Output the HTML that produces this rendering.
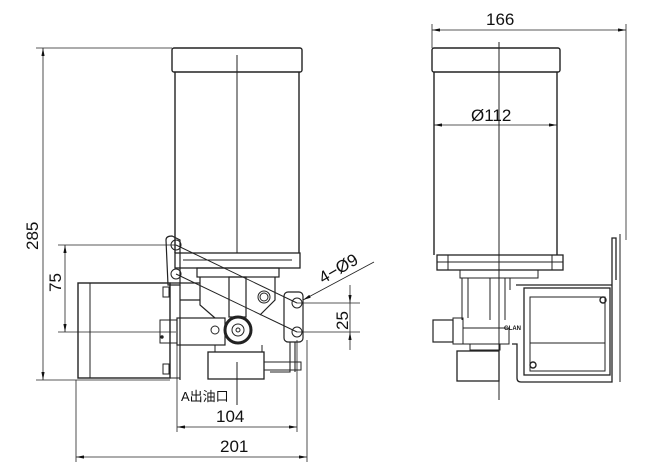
<!DOCTYPE html>
<html><head><meta charset="utf-8"><style>
html,body{margin:0;padding:0;background:#fff;width:645px;height:475px;overflow:hidden}
svg text{font-family:"Liberation Sans","Noto Sans CJK SC",sans-serif;fill:#111}
</style></head><body>
<svg width="645" height="475" viewBox="0 0 645 475" xmlns="http://www.w3.org/2000/svg" fill="none" stroke="#222" stroke-width="1">
<defs>
<marker id="a" viewBox="0 0 10 4" refX="10" refY="2" markerWidth="10" markerHeight="4" orient="auto-start-reverse"><path d="M0,0L10,2L0,4z" fill="#111" stroke="none"/></marker>
</defs>
<!-- LEFT VIEW -->
<rect x="172" y="48" width="130" height="24" rx="2" stroke-width="1.4"/>
<line x1="175" y1="72" x2="175" y2="253" stroke-width="1.4"/>
<line x1="299" y1="72" x2="299" y2="253" stroke-width="1.4"/>
<line x1="237" y1="55" x2="237" y2="253"/>
<rect x="175" y="253" width="125" height="15" stroke-width="1.3"/>
<line x1="183" y1="260" x2="292" y2="260"/>
<rect x="197" y="268" width="82" height="9" stroke-width="1.2"/>
<path d="M200 277 V305 L215 318 M275 277 V300 L260 315" stroke-width="1.2"/>
<rect x="229" y="277" width="17" height="40" stroke-width="1.2"/>
<circle cx="264" cy="297" r="6"/><circle cx="264" cy="297" r="4"/>
<path d="M166 240 Q166 236 172 236 L180 240 V285 L168 285 Z" stroke-width="1.2"/>
<path d="M180 285 V380 M180 300 H200 M170 283 H200" stroke-width="1.2"/>
<rect x="284" y="292" width="19" height="50" rx="4" stroke-width="1.2"/>
<path d="M290 342 V372 H270 M295 342 V372" stroke-width="1.1"/>
<!-- motor -->
<rect x="78" y="283" width="92" height="95" stroke-width="1.4"/>
<line x1="90" y1="283" x2="90" y2="378"/>
<rect x="163" y="287" width="6" height="10"/><rect x="163" y="364" width="6" height="10"/>
<rect x="170" y="283" width="10" height="95"/>
<!-- cylinder -->
<rect x="160" y="320" width="17" height="23"/>
<rect x="177" y="318" width="48" height="27" stroke-width="1.2"/>
<circle cx="162" cy="337" r="1.2" fill="#222"/>
<circle cx="215" cy="330" r="4"/>
<circle cx="238" cy="330" r="13" stroke-width="3"/>
<circle cx="238" cy="330" r="6"/><circle cx="238" cy="330" r="2"/>
<path d="M215 345 V352 M262 345 V352" />
<rect x="208" y="352" width="56" height="27" stroke-width="1.3"/>
<line x1="237" y1="362" x2="237" y2="405"/>
<rect x="264" y="362" width="37" height="8"/>
<!-- holes -->
<circle cx="176" cy="245" r="5"/><circle cx="176" cy="274" r="5"/>
<circle cx="297" cy="303" r="5"/><circle cx="297" cy="332" r="5"/>
<line x1="176" y1="245" x2="297" y2="303"/>
<line x1="176" y1="274" x2="297" y2="332"/>
<!-- dims left -->
<line x1="36" y1="48" x2="172" y2="48" stroke-width=".8"/>
<line x1="36" y1="380" x2="170" y2="380" stroke-width=".8"/>
<line x1="43" y1="48" x2="43" y2="380" stroke-width=".8" marker-start="url(#a)" marker-end="url(#a)"/>
<text x="0" y="0" font-size="17" transform="translate(38,250) rotate(-90)" stroke="none">285</text>
<line x1="58" y1="245" x2="176" y2="245" stroke-width=".8"/>
<line x1="58" y1="332" x2="176" y2="332" stroke-width=".8"/>
<line x1="65" y1="245" x2="65" y2="332" stroke-width=".8" marker-start="url(#a)" marker-end="url(#a)"/>
<text font-size="17" transform="translate(61,292) rotate(-90)" stroke="none">75</text>
<line x1="297" y1="303" x2="360" y2="303" stroke-width=".8"/>
<line x1="297" y1="332" x2="360" y2="332" stroke-width=".8"/>
<line x1="350" y1="285" x2="350" y2="303" stroke-width=".8" marker-end="url(#a)"/>
<line x1="350" y1="350" x2="350" y2="332" stroke-width=".8" marker-end="url(#a)"/>
<line x1="350" y1="303" x2="350" y2="332" stroke-width=".8"/>
<text font-size="17" transform="translate(348,330) rotate(-90)" stroke="none">25</text>
<line x1="374" y1="262" x2="303" y2="300" stroke-width=".8" marker-end="url(#a)"/>
<text font-size="17" transform="translate(323,284) rotate(-30)" stroke="none">4−Ø9</text>
<line x1="177" y1="340" x2="177" y2="432" stroke-width=".8"/>
<line x1="297" y1="340" x2="297" y2="432" stroke-width=".8"/>
<line x1="307" y1="340" x2="307" y2="462" stroke-width=".8"/>
<line x1="76" y1="380" x2="76" y2="462" stroke-width=".8"/>
<line x1="177" y1="427" x2="297" y2="427" stroke-width=".8" marker-start="url(#a)" marker-end="url(#a)"/>
<line x1="76" y1="457" x2="307" y2="457" stroke-width=".8" marker-start="url(#a)" marker-end="url(#a)"/>
<text x="181" y="401" font-size="13" stroke="none">A出油口</text>
<text x="216" y="422" font-size="17" stroke="none">104</text>
<text x="220" y="452" font-size="17" stroke="none">201</text>
<!-- RIGHT VIEW -->
<rect x="432" y="48" width="128" height="24" rx="2" stroke-width="1.4"/>
<line x1="434" y1="72" x2="434" y2="255" stroke-width="1.4"/>
<line x1="557" y1="72" x2="557" y2="255" stroke-width="1.4"/>
<line x1="499" y1="42" x2="499" y2="400"/>
<line x1="432" y1="24" x2="432" y2="48" stroke-width=".8"/>
<line x1="626" y1="24" x2="626" y2="240" stroke-width=".8"/>
<line x1="432" y1="30" x2="626" y2="30" stroke-width=".8" marker-start="url(#a)" marker-end="url(#a)"/>
<text x="486" y="25" font-size="17" stroke="none">166</text>
<line x1="434" y1="125" x2="557" y2="125" stroke-width=".8" marker-start="url(#a)" marker-end="url(#a)"/>
<text x="471" y="121" font-size="17" stroke="none">Ø112</text>
<rect x="437" y="255" width="126" height="15" stroke-width="1.3"/>
<line x1="448" y1="255" x2="448" y2="270"/><line x1="552" y1="255" x2="552" y2="270"/>
<line x1="437" y1="262" x2="563" y2="262"/>
<rect x="460" y="270" width="78" height="8"/>
<path d="M462 278 V320 M468 278 V318 M490 278 V320 M505 278 V320 M510 278 V290" />
<rect x="433" y="320" width="20" height="22" stroke-width="1.2"/>
<rect x="453" y="318" width="10" height="26"/>
<rect x="463" y="328" width="46" height="16"/>
<rect x="470" y="344" width="30" height="6"/>
<rect x="457" y="351" width="42" height="30" stroke-width="1.3"/>
<text x="504" y="330" font-size="6" font-weight="bold" stroke="none">GLAN</text>
<path d="M512 344 H517 V378 Q517 382 521 382 H612 V238 H616 V280" stroke-width="1.3"/>
<path d="M516 285 H612" stroke-width="1.2"/>
<rect x="524" y="288" width="86" height="87" stroke-width="1.3"/>
<rect x="530" y="297" width="75" height="74"/>
<line x1="530" y1="343" x2="605" y2="343"/>
<circle cx="603" cy="300" r="3" stroke-width="1.4"/>
<circle cx="533" cy="365" r="3" stroke-width="1.4"/>
<line x1="620" y1="234" x2="620" y2="382"/>
</svg>
</body></html>
